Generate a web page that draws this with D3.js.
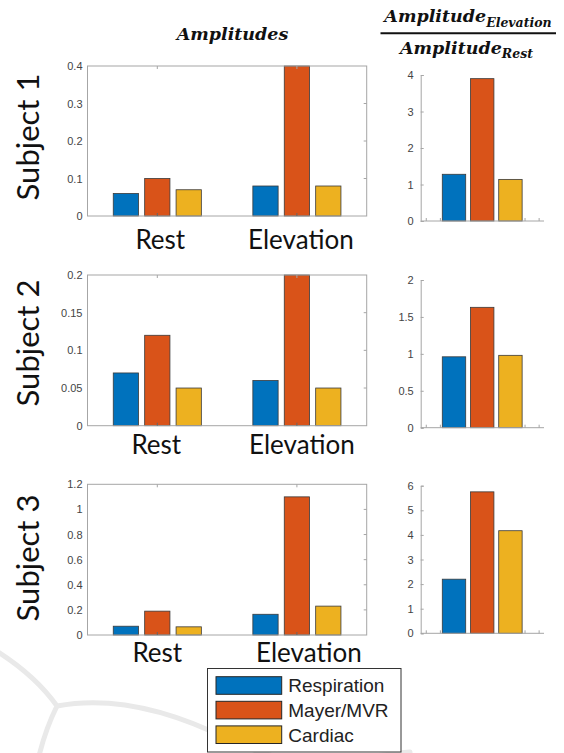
<!DOCTYPE html>
<html>
<head>
<meta charset="utf-8">
<script src="https://cdn.jsdelivr.net/npm/d3@7"></script>
<style>
  body { margin: 0; background: #fff; }
</style>
</head>
<body>
<div id="chart"></div>
<script>
const categories = ["Rest", "Elevation"];
const series = ["Respiration", "Mayer/MVR", "Cardiac"];
const colors = ["#0072BD", "#D95319", "#EDB120"];
const subjects = ["Subject 1", "Subject 2", "Subject 3"];

// amplitudes per subject, one array per category, ordered like series
const restValues = [[0.06, 0.10, 0.07], [0.07, 0.12, 0.05], [0.07, 0.19, 0.065]];
const elevationValues = [[0.08, 0.40, 0.08], [0.06, 0.20, 0.05], [0.165, 1.10, 0.23]];
// elevation / rest ratio per subject
const ratioValues = [[1.28, 3.90, 1.14], [0.96, 1.63, 0.98], [2.20, 5.75, 4.17]];

const ampMax = [0.4, 0.2, 1.2];
const ampTicks = [[0, 0.1, 0.2, 0.3, 0.4], [0, 0.05, 0.1, 0.15, 0.2], [0, 0.2, 0.4, 0.6, 0.8, 1, 1.2]];
const ratioMax = [4, 2, 6];
const ratioTicks = [[0, 1, 2, 3, 4], [0, 0.5, 1, 1.5, 2], [0, 1, 2, 3, 4, 5, 6]];

const width = 564, height = 753;

// layout of each row (pixel positions only)
const rows = [
  { top: 66, bottom: 216, rTop: 75, rBottom: 221, labelY: 248.5, subjY: 137, shift: [3, 4] },
  { top: 275, bottom: 425.7, rTop: 280, rBottom: 427.7, labelY: 453.5, subjY: 343, shift: [-1, 5] },
  { top: 484.3, bottom: 635, rTop: 485.7, rBottom: 633.3, labelY: 662, subjY: 558, shift: [0, 12] }
];

const labelFont = "Lato, 'Open Sans', sans-serif";
const tickFont = "'Liberation Sans', Arial, sans-serif";
const mathFont = "'DejaVu Serif', serif";

const svg = d3.select("#chart")
  .append("svg")
  .attr("width", width)
  .attr("height", height);

// faint watermark in the background
const wm = svg.append("g")
  .attr("fill", "none")
  .attr("stroke", "#e9e9e9")
  .attr("stroke-width", 5)
  .attr("stroke-linecap", "round");
wm.append("path").attr("d", "M-5,650 Q35,675 57,706");
wm.append("path").attr("d", "M57,706 Q45,730 38,760");
wm.append("path").attr("d", "M57,706 C110,696 170,710 230,740 S330,760 410,752");

const x = d3.scaleLinear().domain([0.5, 2.5]).range([87.5, 366.7]);
const xr = d3.scaleLinear().domain([-0.18, 4.19]).range([420.7, 544]);
const barOffset = 0.225, barWidth = 0.181, ratioBarWidth = 0.83;

rows.forEach((row, i) => {
  const y = d3.scaleLinear().domain([0, ampMax[i]]).range([row.bottom, row.top]);
  const yr = d3.scaleLinear().domain([0, ratioMax[i]]).range([row.rBottom, row.rTop]);
  const g = svg.append("g");

  // amplitude bars
  const groups = [restValues[i], elevationValues[i]];
  groups.forEach((vals, c) => {
    g.selectAll(null)
      .data(vals)
      .join("rect")
      .attr("x", (d, s) => x(c + 1 + (s - 1) * barOffset - barWidth / 2))
      .attr("width", x(barWidth) - x(0))
      .attr("y", d => y(Math.min(d, ampMax[i])))
      .attr("height", d => y(0) - y(Math.min(d, ampMax[i])))
      .attr("fill", (d, s) => colors[s])
      .attr("stroke", "#3a3a3a")
      .attr("stroke-width", 0.8);
  });

  // box with inward ticks
  g.append("rect")
    .attr("x", x.range()[0]).attr("y", row.top)
    .attr("width", x.range()[1] - x.range()[0])
    .attr("height", row.bottom - row.top)
    .attr("fill", "none")
    .attr("stroke", "#a6a6a6");

  const yAxis = g.append("g")
    .attr("transform", `translate(${x.range()[0]},0)`)
    .call(d3.axisLeft(y).tickValues(ampTicks[i]).tickSize(0).tickPadding(5).tickFormat(d => String(d)));
  yAxis.select(".domain").remove();
  yAxis.selectAll("text")
    .attr("font-family", tickFont).attr("font-size", 11).attr("fill", "#444");

  g.selectAll(null)
    .data(ampTicks[i].slice(1, -1))
    .join("line")
    .attr("x1", x.range()[1]).attr("x2", x.range()[1] - 3)
    .attr("y1", d => y(d)).attr("y2", d => y(d))
    .attr("stroke", "#a6a6a6");
  g.selectAll(null)
    .data([1, 2])
    .join("line")
    .attr("x1", d => x(d)).attr("x2", d => x(d))
    .attr("y1", row.top).attr("y2", row.top + 3)
    .attr("stroke", "#a6a6a6");
  g.selectAll(null)
    .data([1, 2])
    .join("line")
    .attr("x1", d => x(d)).attr("x2", d => x(d))
    .attr("y1", row.bottom).attr("y2", row.bottom - 3)
    .attr("stroke", "#666");

  // category labels
  g.selectAll(null)
    .data(categories)
    .join("text")
    .attr("x", (d, c) => x(c + 1) + row.shift[c])
    .attr("y", row.labelY)
    .attr("text-anchor", "middle")
    .attr("font-family", labelFont)
    .attr("font-size", 26)
    .attr("fill", "#111")
    .text(d => d);

  // subject label
  g.append("text")
    .attr("transform", `translate(39,${row.subjY}) rotate(-90)`)
    .attr("text-anchor", "middle")
    .attr("font-family", labelFont)
    .attr("font-size", 31)
    .attr("fill", "#111")
    .text(subjects[i]);

  // ratio bars
  g.selectAll(null)
    .data(ratioValues[i])
    .join("rect")
    .attr("x", (d, s) => xr(s + 1 - ratioBarWidth / 2))
    .attr("width", xr(ratioBarWidth) - xr(0))
    .attr("y", d => yr(d))
    .attr("height", d => yr(0) - yr(d))
    .attr("fill", (d, s) => colors[s])
    .attr("stroke", "#3a3a3a")
    .attr("stroke-width", 0.8);

  const yrAxis = g.append("g")
    .attr("transform", `translate(${xr.range()[0]},0)`)
    .call(d3.axisLeft(yr).tickValues(ratioTicks[i]).tickSize(-3).tickPadding(7).tickFormat(d => String(d)));
  yrAxis.select(".domain").attr("stroke", "#a6a6a6");
  yrAxis.selectAll(".tick line").attr("stroke", "#a6a6a6");
  yrAxis.selectAll("text")
    .attr("font-family", tickFont).attr("font-size", 11).attr("fill", "#444");

  const xrAxis = g.append("g")
    .attr("transform", `translate(0,${row.rBottom})`)
    .call(d3.axisBottom(xr).tickValues([0, 0.5, 3.5, 4]).tickSize(-3).tickFormat(""));
  xrAxis.select(".domain").attr("stroke", "#a6a6a6").attr("d", `M${xr.range()[0]},0H${xr.range()[1]}`);
  xrAxis.selectAll(".tick line").attr("stroke", "#a6a6a6");
});

// column titles
svg.append("text")
  .attr("x", 232.5).attr("y", 39.5)
  .attr("text-anchor", "middle")
  .attr("font-family", mathFont)
  .attr("font-weight", "bold").attr("font-style", "italic")
  .attr("font-size", 17.5)
  .attr("fill", "#111")
  .text("Amplitudes");

const frac = svg.append("g")
  .attr("font-family", mathFont)
  .attr("font-weight", "bold").attr("font-style", "italic")
  .attr("fill", "#111");
const num = frac.append("text").attr("x", 468).attr("y", 22).attr("text-anchor", "middle");
num.append("tspan").attr("font-size", 17.5).text("Amplitude");
num.append("tspan").attr("font-size", 12.5).attr("dy", 4.5).text("Elevation");
frac.append("line")
  .attr("x1", 380.5).attr("x2", 556).attr("y1", 33.3).attr("y2", 33.3)
  .attr("stroke", "#111").attr("stroke-width", 2);
const den = frac.append("text").attr("x", 466.5).attr("y", 53.5).attr("text-anchor", "middle");
den.append("tspan").attr("font-size", 17.5).text("Amplitude");
den.append("tspan").attr("font-size", 12.5).attr("dy", 4.5).text("Rest");

// legend
const legend = svg.append("g");
legend.append("rect")
  .attr("x", 207.5).attr("y", 668.5).attr("width", 193.5).attr("height", 83.5)
  .attr("fill", "#fff").attr("stroke", "#333");
const items = legend.selectAll(null)
  .data(series)
  .join("g")
  .attr("transform", (d, s) => `translate(0,${685.5 + s * 24.6})`);
items.append("rect")
  .attr("x", 216).attr("y", -8.8).attr("width", 65.7).attr("height", 17.6)
  .attr("fill", (d, s) => colors[s])
  .attr("stroke", "#262626").attr("stroke-width", 1);
items.append("text")
  .attr("x", 288.3).attr("dy", "0.36em")
  .attr("font-family", tickFont).attr("font-size", 19)
  .attr("fill", "#222")
  .text(d => d);
</script>
</body>
</html>
